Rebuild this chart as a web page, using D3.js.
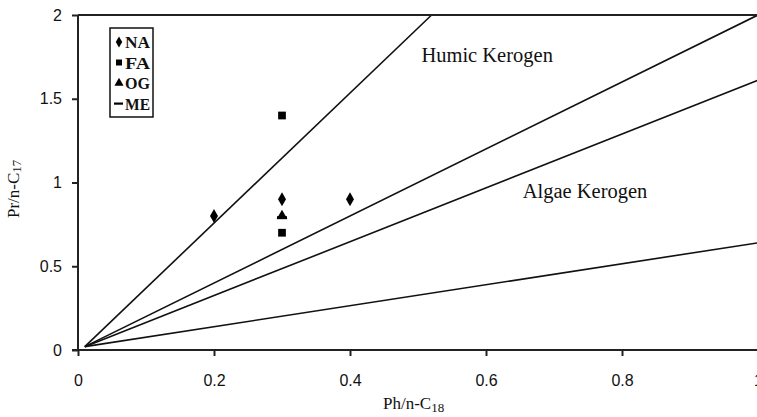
<!DOCTYPE html>
<html lang="en">
<head>
  <meta charset="UTF-8" />
  <title>Pr/n-C17 vs Ph/n-C18</title>
  <style>
    body { margin: 0; background: white; }
    svg { display: block; }
    .tick text { font-family: "Liberation Sans", Arial, sans-serif; font-size: 16px; fill: #111; }
    .serif { font-family: "Liberation Serif", "Times New Roman", serif; fill: #111; }
  </style>
</head>
<body>
  <svg width="757" height="417"></svg>

  <script src="https://d3js.org/d3.v7.min.js"></script>
  <script>
    // data
    const xTicks = [0, 0.2, 0.4, 0.6, 0.8, 1];
    const yTicks = [0, 0.5, 1, 1.5, 2];

    const naPoints = [[0.2, 0.8], [0.3, 0.9], [0.4, 0.9]];
    const faPoints = [[0.3, 1.4], [0.3, 0.7]];
    const ogPoints = [[0.3, 0.8]];
    const mePoints = [[0.3, 0.79]];

    // boundary lines, start and end
    const boundaryLines = [
      [[0.01, 0.02], [0.52, 2]],
      [[0.01, 0.02], [1, 2]],
      [[0.01, 0.02], [1, 1.61]],
      [[0.01, 0.02], [1, 0.64]]
    ];

    const regionLabels = [
      { text: "Humic Kerogen", x: 0.505, y: 1.72 },
      { text: "Algae Kerogen", x: 0.654, y: 0.91 }
    ];

    const legendItems = ["NA", "FA", "OG", "ME"];

    const svg = d3.select("svg");
    const x = d3.scaleLinear().domain([0, 1]).range([78, 758]);
    const y = d3.scaleLinear().domain([0, 2]).range([350, 15]);

    // region lines
    svg.append("g")
      .selectAll("line")
      .data(boundaryLines)
      .join("line")
        .attr("x1", d => x(d[0][0]))
        .attr("y1", d => y(d[0][1]))
        .attr("x2", d => x(d[1][0]))
        .attr("y2", d => y(d[1][1]))
        .attr("stroke", "#111")
        .attr("stroke-width", 1.6);

    // axes
    const xAxis = svg.append("g")
      .attr("transform", `translate(0,${y(0)})`)
      .call(d3.axisBottom(x).tickValues(xTicks).tickSize(6).tickPadding(19).tickFormat(d3.format("")));
    const yAxis = svg.append("g")
      .attr("transform", `translate(${x(0)},0)`)
      .call(d3.axisLeft(y).tickValues(yTicks).tickSize(6).tickPadding(10).tickFormat(d3.format("")));
    [xAxis, yAxis].forEach(a => {
      a.select(".domain").attr("stroke", "#222").attr("stroke-width", 2);
      a.selectAll(".tick line").attr("stroke", "#222").attr("stroke-width", 2);
    });
    xAxis.select(".domain").attr("d", `M${x(0) - 6},0H757`);
    yAxis.select(".domain").attr("d", `M0,${y(0)}V${y(2)}`);

    // top border
    svg.append("line")
      .attr("x1", x(0)).attr("x2", 757)
      .attr("y1", y(2)).attr("y2", y(2))
      .attr("stroke", "#222").attr("stroke-width", 2);

    // markers
    const diamond = d3.symbol().type(d3.symbolDiamond).size(55);
    const square = d3.symbol().type(d3.symbolSquare).size(60);
    const triangle = d3.symbol().type(d3.symbolTriangle).size(50);

    svg.append("g").selectAll("path").data(naPoints).join("path")
      .attr("transform", d => `translate(${x(d[0])},${y(d[1])})`)
      .attr("d", diamond).attr("fill", "#000");
    svg.append("g").selectAll("path").data(faPoints).join("path")
      .attr("transform", d => `translate(${x(d[0])},${y(d[1])})`)
      .attr("d", square).attr("fill", "#000");
    svg.append("g").selectAll("path").data(ogPoints).join("path")
      .attr("transform", d => `translate(${x(d[0])},${y(d[1])})`)
      .attr("d", triangle).attr("fill", "#000");
    svg.append("g").selectAll("rect").data(mePoints).join("rect")
      .attr("x", d => x(d[0]) - 5).attr("y", d => y(d[1]) - 1.5)
      .attr("width", 10).attr("height", 3).attr("fill", "#000");

    // region labels
    svg.append("g").selectAll("text").data(regionLabels).join("text")
      .attr("class", "serif")
      .attr("x", d => x(d.x)).attr("y", d => y(d.y))
      .attr("font-size", 20.5)
      .text(d => d.text);

    // legend
    const legend = svg.append("g").attr("transform", "translate(110,28)");
    legend.append("rect")
      .attr("width", 43).attr("height", 89)
      .attr("fill", "white").attr("stroke", "#111").attr("stroke-width", 1.5);
    const legendShapes = [diamond, square, triangle, null];
    const li = legend.selectAll("g").data(legendItems).join("g")
      .attr("transform", (d, i) => `translate(0,${14 + i * 20.5})`);
    li.each(function(d, i) {
      const g = d3.select(this);
      if (legendShapes[i]) {
        g.append("path").attr("transform", "translate(9,0)")
          .attr("d", legendShapes[i].size(36)).attr("fill", "#000");
      } else {
        g.append("rect").attr("x", 4).attr("y", -1).attr("width", 9).attr("height", 2.2).attr("fill", "#000");
      }
      g.append("text").attr("class", "serif")
        .attr("x", 15).attr("y", 6)
        .attr("font-size", 16).attr("font-weight", "bold")
        .attr("textLength", 25).attr("lengthAdjust", "spacingAndGlyphs")
        .text(d);
    });

    // axis titles
    const xt = svg.append("text").attr("class", "serif")
      .attr("x", 383).attr("y", 409).attr("font-size", 17);
    xt.append("tspan").text("Ph/n-C");
    xt.append("tspan").attr("font-size", 13).attr("dy", 3).text("18");

    const yt = svg.append("text").attr("class", "serif")
      .attr("transform", "translate(19,218) rotate(-90)").attr("font-size", 17);
    yt.append("tspan").text("Pr/n-C");
    yt.append("tspan").attr("font-size", 13).attr("dy", 2).text("17");
  </script>
</body>
</html>
